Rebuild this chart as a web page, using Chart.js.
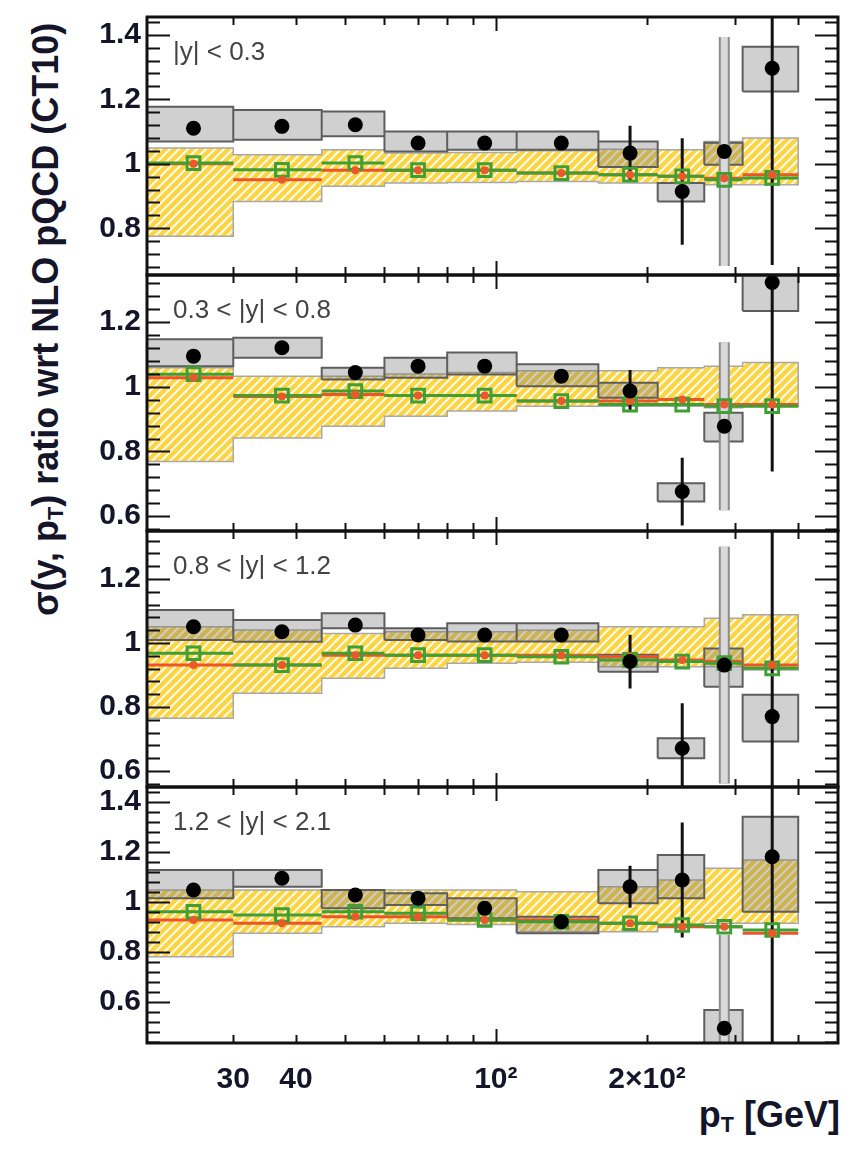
<!DOCTYPE html>
<html lang="en">
<head>
<meta charset="UTF-8">
<title>Inclusive jet cross-section ratio wrt NLO pQCD</title>
<script src="https://cdn.jsdelivr.net/npm/chart.js@4"></script>
<style>
  body { margin: 0; background: #fff; }
  .page { position: relative; width: 848px; height: 1149px; font-family: "Liberation Sans", Arial, sans-serif; color: #15152a; }
  .page canvas { position: absolute; left: 0; }
  .ytitle {
    position: absolute; left: 27px; top: 616px;
    transform: rotate(-90deg); transform-origin: 0 0;
    font-size: 36px; font-weight: bold; line-height: 38px; white-space: nowrap;
  }
  .ytitle sub, .xtitle sub { font-size: 0.6em; vertical-align: -0.25em; }
  .xtitle { position: absolute; right: 8px; top: 1094px; font-size: 36px; font-weight: bold; white-space: nowrap; }
</style>
</head>
<body>
<div class="page" id="page">
  <div class="ytitle">σ(y, p<sub>T</sub>) ratio wrt NLO pQCD (CT10)</div>
  <div class="xtitle">p<sub>T</sub> [GeV]</div>
</div>

<script>
// pT binning (GeV) and axis ticks
const binEdges = [20, 30, 45, 60, 80, 110, 160, 210, 260, 310, 400];
const xLabelTicks = [30, 40, 100, 200];
const xLabelText = ['30', '40', '10²', '2×10²'];
const xMinorTicks = [20, 30, 40, 50, 60, 70, 80, 90, 100, 200, 300, 400];
const yLabelTicks = [0.6, 0.8, 1, 1.2, 1.4];

// one row per rapidity bin
const rapidityBins = ['|y| < 0.3', '0.3 < |y| < 0.8', '0.8 < |y| < 1.2', '1.2 < |y| < 2.1'];
const yRanges = [[0.655, 1.455], [0.554, 1.346], [0.55, 1.35], [0.436, 1.46]];

// measured / NLO(CT10)
const dataRatio = [
  [1.110, 1.116, 1.121, 1.064, 1.064, 1.064, 1.033, 0.914, 1.038, 1.296],
  [1.095, 1.121, 1.044, 1.064, 1.064, 1.033, 0.987, 0.676, 0.878, 1.323],
  [1.051, 1.035, 1.056, 1.025, 1.025, 1.025, 0.942, 0.671, 0.931, 0.770],
  [1.048, 1.095, 1.028, 1.015, 0.975, 0.921, 1.061, 1.088, 0.495, 1.181]
];
const statErr = [
  [0.008, 0.008, 0.01, 0.01, 0.012, 0.015, 0.085, 0.165, 0.355, 0.61],
  [0.008, 0.008, 0.01, 0.01, 0.012, 0.015, 0.065, 0.105, 0.26, 0.585],
  [0.008, 0.008, 0.01, 0.01, 0.012, 0.015, 0.084, 0.141, 0.37, 0.65],
  [0.008, 0.008, 0.01, 0.012, 0.015, 0.02, 0.084, 0.23, 0.373, 0.8]
];
// bin whose statistical error is shown as the wide grey bar
const grayBarBin = 8;

// systematic uncertainty boxes
const systLo = [
  [1.069, 1.074, 1.085, 1.038, 1.043, 1.043, 0.990, 0.883, 0.997, 1.224],
  [1.064, 1.090, 1.023, 1.028, 1.038, 1.002, 0.966, 0.645, 0.831, 1.235],
  [1.009, 1.004, 1.046, 1.009, 1.005, 1.005, 0.910, 0.640, 0.863, 0.692],
  [1.015, 1.061, 0.975, 0.988, 0.935, 0.875, 0.995, 1.015, 0.400, 0.961]
];
const systHi = [
  [1.177, 1.167, 1.162, 1.100, 1.100, 1.100, 1.069, 0.940, 1.065, 1.363],
  [1.147, 1.152, 1.059, 1.090, 1.106, 1.070, 1.013, 0.702, 0.920, 1.400],
  [1.103, 1.072, 1.093, 1.046, 1.062, 1.062, 0.963, 0.702, 0.983, 0.838],
  [1.128, 1.128, 1.048, 1.035, 1.015, 0.941, 1.128, 1.188, 0.568, 1.341]
];

// NLO (CT10) theory uncertainty band
const nloLo = [
  [0.775, 0.883, 0.930, 0.940, 0.942, 0.945, 0.940, 0.940, 0.935, 0.935],
  [0.769, 0.842, 0.878, 0.909, 0.925, 0.940, 0.940, 0.940, 0.935, 0.940],
  [0.765, 0.843, 0.890, 0.921, 0.937, 0.940, 0.926, 0.926, 0.926, 0.916],
  [0.781, 0.875, 0.901, 0.915, 0.910, 0.881, 0.881, 0.901, 0.915, 0.915]
];
const nloHi = [
  [1.049, 1.028, 1.043, 1.033, 1.035, 1.040, 1.045, 1.043, 1.069, 1.080],
  [1.059, 1.033, 1.033, 1.040, 1.044, 1.050, 1.050, 1.059, 1.064, 1.075],
  [1.051, 1.041, 1.030, 1.035, 1.035, 1.040, 1.051, 1.051, 1.077, 1.088],
  [1.048, 1.048, 1.048, 1.048, 1.048, 1.041, 1.061, 1.088, 1.135, 1.168]
];

// alternative predictions / NLO(CT10)
const altRatioGreen = [
  [1.002, 0.981, 1.002, 0.980, 0.980, 0.971, 0.966, 0.961, 0.950, 0.956],
  [1.039, 0.973, 0.987, 0.973, 0.973, 0.956, 0.945, 0.945, 0.940, 0.940],
  [0.968, 0.931, 0.968, 0.962, 0.962, 0.957, 0.947, 0.942, 0.937, 0.921],
  [0.961, 0.948, 0.961, 0.955, 0.928, 0.921, 0.915, 0.908, 0.901, 0.888]
];
const altRatioRed = [
  [1.000, 0.950, 0.980, 0.980, 0.980, 0.971, 0.966, 0.961, 0.955, 0.966],
  [1.028, 0.970, 0.976, 0.973, 0.973, 0.956, 0.956, 0.961, 0.945, 0.945],
  [0.931, 0.931, 0.962, 0.962, 0.962, 0.962, 0.957, 0.947, 0.942, 0.931],
  [0.928, 0.915, 0.941, 0.941, 0.928, 0.928, 0.915, 0.901, 0.901, 0.875]
];

// ---- layout ----
const frameY = [[17, 275], [275, 531], [531, 787], [787, 1043]];
const PAD = 4;
const AXIS_W = 147;
const X_MIN = 20.2, X_MAX = 480;
const FONT = '"Liberation Sans", Arial, sans-serif';
const INK = '#15152a';

const binCenters = binEdges.slice(0, -1).map((e, i) => (e + binEdges[i + 1]) / 2);

// yellow + white diagonal hatch
function hatchPattern() {
  const c = document.createElement('canvas');
  c.width = c.height = 9;
  const g = c.getContext('2d');
  g.fillStyle = '#fdd544';
  g.fillRect(0, 0, 9, 9);
  g.strokeStyle = 'rgba(255,255,255,0.9)';
  g.lineWidth = 2;
  g.beginPath();
  g.moveTo(0, 9); g.lineTo(9, 0);
  g.moveTo(-2, 2); g.lineTo(2, -2);
  g.moveTo(7, 11); g.lineTo(11, 7);
  g.stroke();
  return g.createPattern(c, 'repeat');
}
const hatch = hatchPattern();

// closed outline of the stepped band: upper edge forward, lower edge back
function bandPath(lo, hi) {
  const pts = [];
  hi.forEach((h, i) => pts.push({x: binEdges[i], y: h}, {x: binEdges[i + 1], y: h}));
  for (let i = lo.length - 1; i >= 0; i--) {
    pts.push({x: binEdges[i + 1], y: lo[i]}, {x: binEdges[i], y: lo[i]});
  }
  pts.push({x: binEdges[0], y: hi[0]});
  return pts;
}

// one closed rectangle per bin, separated by gaps
function boxPath(lo, hi) {
  const pts = [];
  lo.forEach((l, i) => {
    const a = binEdges[i], b = binEdges[i + 1];
    pts.push({x: a, y: l}, {x: a, y: hi[i]}, {x: b, y: hi[i]}, {x: b, y: l}, {x: a, y: l}, {x: a, y: null});
  });
  return pts;
}

function binLines(vals) {
  const pts = [];
  vals.forEach((v, i) => pts.push({x: binEdges[i], y: v}, {x: binEdges[i + 1], y: v}, {x: binEdges[i + 1], y: null}));
  return pts;
}

function errBars(vals, errs, keep) {
  const pts = [];
  vals.forEach((v, i) => {
    if (!keep(i)) return;
    const x = binCenters[i];
    pts.push({x, y: v - errs[i]}, {x, y: v + errs[i]}, {x, y: null});
  });
  return pts;
}

const markers = vals => vals.map((v, i) => ({x: binCenters[i], y: v}));

const lineDefaults = {type: 'line', pointRadius: 0, tension: 0, spanGaps: false, fill: false};

// frame plus inward ticks on all four sides
const frameTicks = {
  id: 'frameTicks',
  afterDatasetsDraw(chart) {
    const {ctx, chartArea: a, scales: {x, y}} = chart;
    ctx.save();
    ctx.strokeStyle = '#111';
    ctx.lineWidth = 2;
    ctx.beginPath();
    const k0 = Math.ceil(y.min / 0.04 - 1e-6), k1 = Math.floor(y.max / 0.04 + 1e-6);
    for (let k = k0; k <= k1; k++) {
      const py = Math.round(y.getPixelForValue(k * 0.04)) + 0.5;
      const len = k % 5 === 0 ? 23 : 13;
      ctx.moveTo(a.left, py); ctx.lineTo(a.left + len, py);
      ctx.moveTo(a.right, py); ctx.lineTo(a.right - len, py);
    }
    xMinorTicks.forEach(v => {
      if (v < x.min || v > x.max) return;
      const px = Math.round(x.getPixelForValue(v)) + 0.5;
      const len = v === 100 ? 14 : 8;
      ctx.moveTo(px, a.top); ctx.lineTo(px, a.top + len);
      ctx.moveTo(px, a.bottom); ctx.lineTo(px, a.bottom - len);
    });
    ctx.stroke();
    ctx.lineWidth = 3;
    ctx.strokeRect(a.left, a.top, a.right - a.left, a.bottom - a.top);
    ctx.restore();
  }
};

const panelLabel = {
  id: 'panelLabel',
  afterDraw(chart, args, opts) {
    const {ctx, chartArea: a} = chart;
    ctx.save();
    ctx.font = '26px ' + FONT;
    ctx.fillStyle = '#444';
    ctx.textBaseline = 'middle';
    ctx.fillText(opts.text, a.left + 26, a.top + 36);
    ctx.restore();
  }
};

function makePanel(p) {
  const [top, bot] = frameY[p];
  const last = p === frameY.length - 1;
  const xAxisH = last ? 1149 - (top - PAD) - PAD - (bot - top) : 0;
  const canvas = document.createElement('canvas');
  canvas.width = 848;
  canvas.height = last ? 1149 - (top - PAD) : (bot - top) + 2 * PAD;
  canvas.style.top = (top - PAD) + 'px';
  document.getElementById('page').appendChild(canvas);

  const datasets = [
    Object.assign({}, lineDefaults, {
      order: 1, showLine: false, data: markers(dataRatio[p]),
      pointRadius: 7.5, pointBackgroundColor: '#000', pointBorderWidth: 0
    }),
    Object.assign({}, lineDefaults, {
      order: 2, showLine: false, data: markers(altRatioRed[p]),
      pointRadius: 4, pointBackgroundColor: '#e8592c', pointBorderWidth: 0
    }),
    Object.assign({}, lineDefaults, {
      order: 3, showLine: false, data: markers(altRatioGreen[p]),
      pointRadius: 9, pointStyle: 'rect', pointBackgroundColor: 'rgba(0,0,0,0)',
      pointBorderColor: '#3f9f35', pointBorderWidth: 3
    }),
    Object.assign({}, lineDefaults, {
      order: 4, data: errBars(dataRatio[p], statErr[p], i => i !== grayBarBin),
      borderColor: '#111', borderWidth: 3
    }),
    Object.assign({}, lineDefaults, {
      order: 5, data: errBars(dataRatio[p], statErr[p], i => i === grayBarBin),
      borderColor: '#dadada', borderWidth: 7
    }),
    Object.assign({}, lineDefaults, {
      order: 6, data: errBars(dataRatio[p], statErr[p], i => i === grayBarBin),
      borderColor: '#8c8c8c', borderWidth: 11
    }),
    Object.assign({}, lineDefaults, {
      order: 7, data: binLines(altRatioGreen[p]), borderColor: '#3f9f35', borderWidth: 3
    }),
    Object.assign({}, lineDefaults, {
      order: 8, data: binLines(altRatioRed[p]), borderColor: '#ec5528', borderWidth: 3
    }),
    Object.assign({}, lineDefaults, {
      order: 9, data: boxPath(systLo[p], systHi[p]), fill: 'shape',
      backgroundColor: 'rgba(110,110,110,0.32)', borderColor: '#5e5e5e', borderWidth: 2
    }),
    Object.assign({}, lineDefaults, {
      order: 10, data: bandPath(nloLo[p], nloHi[p]), fill: 'shape',
      backgroundColor: hatch, borderColor: '#a8a8a8', borderWidth: 1.5
    })
  ];

  new Chart(canvas, {
    type: 'line',
    data: {datasets},
    options: {
      responsive: false,
      animation: false,
      devicePixelRatio: 1,
      layout: {autoPadding: false, padding: {top: PAD, bottom: last ? 0 : PAD, left: 0, right: 848 - 838}},
      plugins: {
        legend: {display: false},
        tooltip: {enabled: false},
        panelLabel: {text: rapidityBins[p]}
      },
      scales: {
        x: {
          type: 'logarithmic', min: X_MIN, max: X_MAX, display: last,
          grid: {display: false, drawTicks: false}, border: {display: false},
          afterBuildTicks: s => { s.ticks = xLabelTicks.map(v => ({value: v})); },
          afterFit: s => { s.height = xAxisH; s.paddingLeft = 0; s.paddingRight = 0; },
          ticks: {
            autoSkip: false, maxRotation: 0, padding: 19, color: INK,
            font: {family: FONT, size: 30, weight: 'bold'},
            callback: v => xLabelText[xLabelTicks.indexOf(v)]
          }
        },
        y: {
          min: yRanges[p][0], max: yRanges[p][1],
          grid: {display: false, drawTicks: false}, border: {display: false},
          afterBuildTicks: s => {
            s.ticks = yLabelTicks.filter(v => v >= s.min && v <= s.max).map(v => ({value: v}));
          },
          afterFit: s => { s.width = AXIS_W; s.paddingTop = 0; s.paddingBottom = 0; },
          ticks: {
            autoSkip: false, padding: 6, color: INK,
            font: {family: FONT, size: 30, weight: 'bold'},
            callback: v => String(+v.toFixed(1))
          }
        }
      }
    },
    plugins: [frameTicks, panelLabel]
  });
}

rapidityBins.forEach((_, p) => makePanel(p));
</script>
</body>
</html>
